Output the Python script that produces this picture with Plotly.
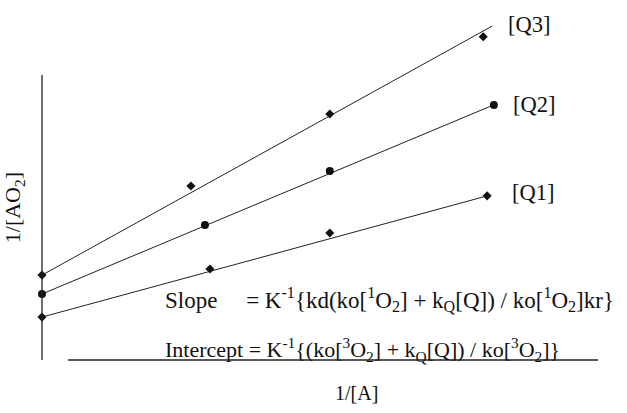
import numpy as np
import plotly.graph_objects as go

# ---- data (arbitrary units) ----
series_names = ["[Q3]", "[Q2]", "[Q1]"]
q3_x = [0.0, 2.66, 5.14, 7.88]
q3_y = [2.83, 5.80, 8.20, 10.77]
q2_x = [0.0, 2.91, 5.14, 8.07]
q2_y = [2.20, 4.50, 6.30, 8.50]
q1_x = [0.0, 3.00, 5.14, 7.95]
q1_y = [1.43, 3.03, 4.23, 5.47]
# fitted straight lines: (intercept, slope, end of line on x)
q3_fit = [2.83, 1.032, 8.04]
q2_fit = [2.20, 0.781, 8.07]
q1_fit = [1.43, 0.508, 7.95]

x_title = "1/[A]"
y_title = "1/[AO<sub>2</sub>]"
slope_text = ("Slope&nbsp;&nbsp;&nbsp;&nbsp;&nbsp;= K<sup>-1</sup>{kd(ko[<sup>1</sup>O<sub>2</sub>] + "
              "k<sub>Q</sub>[Q]) / ko[<sup>1</sup>O<sub>2</sub>]kr}")
intercept_text = ("Intercept = K<sup>-1</sup>{(ko[<sup>3</sup>O<sub>2</sub>] + k<sub>Q</sub>[Q]) / "
                  "ko[<sup>3</sup>O<sub>2</sub>]}")

FONT = "Liberation Serif, Times New Roman, serif"
INK = "#111111"

fig = go.Figure()

series = [
    (q3_x, q3_y, q3_fit, "diamond", 7, 14, 2),
    (q2_x, q2_y, q2_fit, "circle", 8, 17, 0),
    (q1_x, q1_y, q1_fit, "diamond", 7, 23, 3),
]
for name, (xs, ys, fit, sym, sz, dx, dy) in zip(series_names, series):
    b, m, xend = fit
    lx = np.array([0.0, xend])
    ly = b + m * lx
    fig.add_trace(go.Scatter(x=lx, y=ly, mode="lines",
                             line=dict(color="#222222", width=1),
                             cliponaxis=False, showlegend=False, hoverinfo="skip"))
    fig.add_trace(go.Scatter(x=xs, y=ys, mode="markers", name=name,
                             marker=dict(symbol=sym, size=sz, color=INK),
                             cliponaxis=False, showlegend=False))
    fig.add_annotation(x=xend, y=b + m * xend, text=name, showarrow=False,
                       xanchor="left", yanchor="middle", xshift=dx, yshift=dy,
                       font=dict(family=FONT, size=22.5, color=INK))

fig.add_annotation(x=0.218, y=2.0, xref="paper", yref="y", text=slope_text,
                   showarrow=False, xanchor="left", yanchor="middle",
                   font=dict(family=FONT, size=23, color=INK))
fig.add_annotation(x=0.218, y=0.35, xref="paper", yref="y", text=intercept_text,
                   showarrow=False, xanchor="left", yanchor="middle",
                   font=dict(family=FONT, size=22, color=INK))
fig.add_annotation(x=0.565, y=-0.058, xref="paper", yref="paper", text=x_title,
                   showarrow=False, xanchor="center", yanchor="top",
                   font=dict(family=FONT, size=20, color=INK))
fig.add_annotation(x=-0.05, y=0.447, xref="paper", yref="paper", text=y_title,
                   showarrow=False, textangle=-90, xanchor="center", yanchor="middle",
                   font=dict(family=FONT, size=22, color=INK))

# axis lines
fig.add_shape(type="line", xref="paper", yref="paper", x0=0, x1=0, y0=0, y1=0.838,
              line=dict(color="#222222", width=1.3))
fig.add_shape(type="line", xref="paper", yref="paper", x0=0.047, x1=1, y0=0, y1=0,
              line=dict(color="#222222", width=1.3))

fig.update_xaxes(range=[0, 9.93], visible=False, fixedrange=True)
fig.update_yaxes(range=[0, 11.33], visible=False, fixedrange=True)
fig.update_layout(width=627, height=413,
                  margin=dict(l=42, r=29, t=20, b=53),
                  plot_bgcolor="white", paper_bgcolor="white",
                  showlegend=False)

fig.write_html("out.html", config={"displayModeBar": False},
               post_script="document.body.style.margin='0';document.body.style.overflow='hidden';")
